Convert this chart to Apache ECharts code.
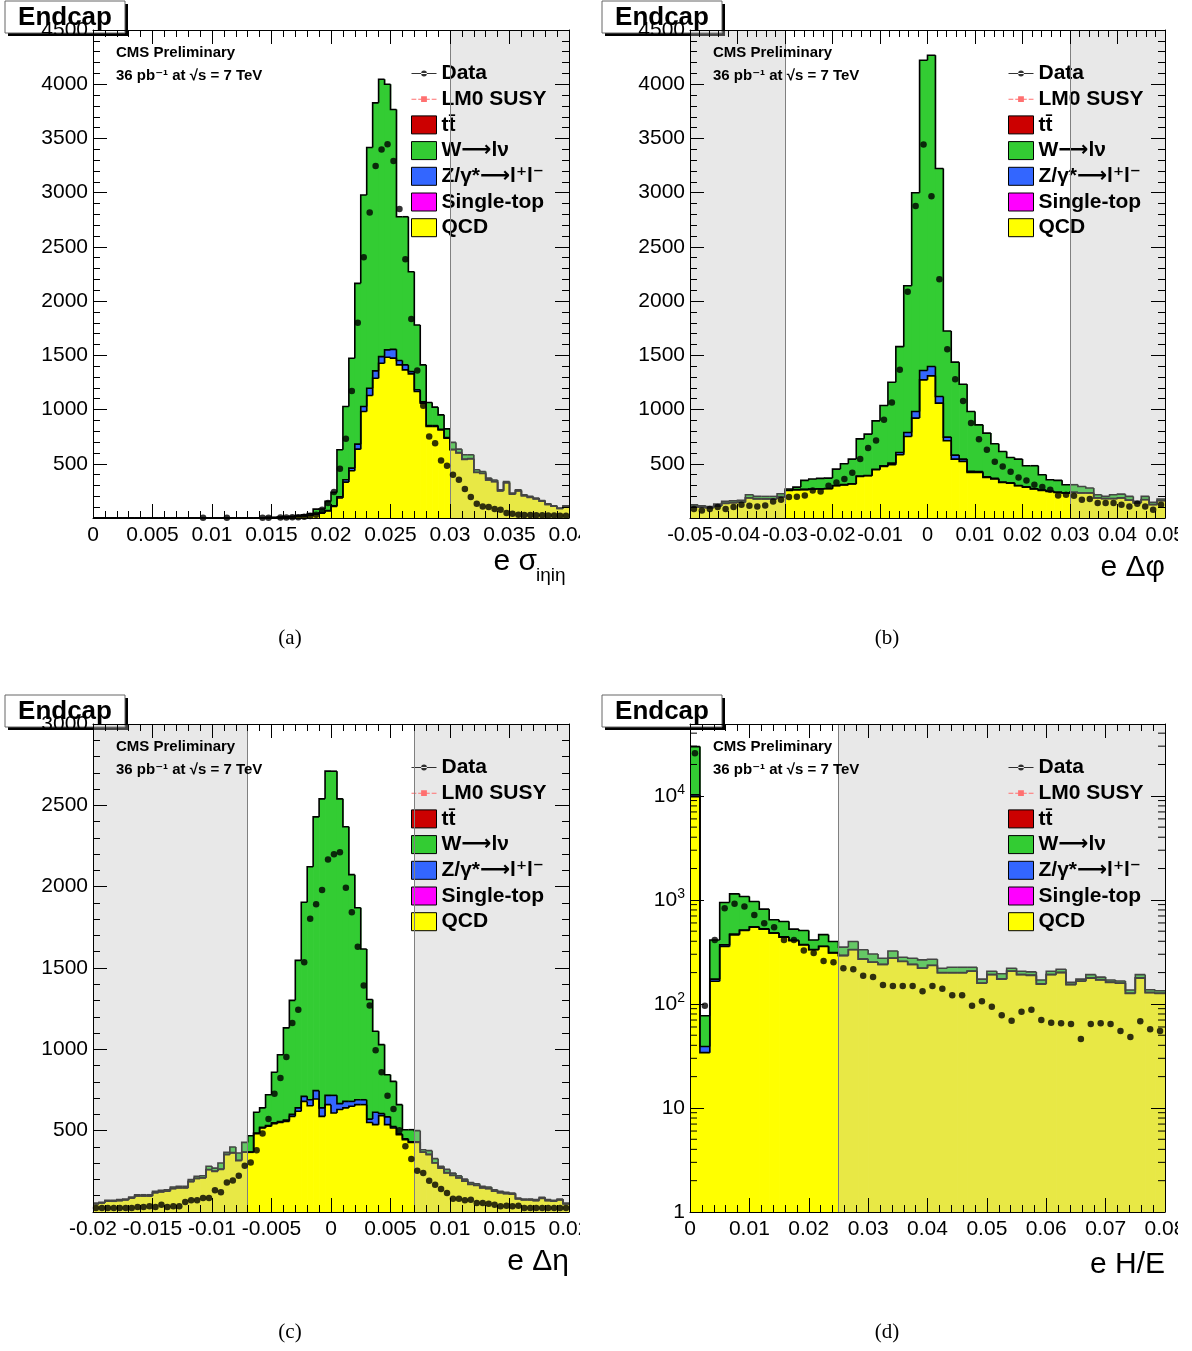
<!DOCTYPE html>
<html><head><meta charset="utf-8">
<script src="https://cdn.jsdelivr.net/npm/echarts@6/dist/echarts.min.js"></script>
<style>html,body{margin:0;padding:0;background:#fff}#c{width:1192px;height:1351px}</style>
</head><body><div id="c"></div><script>
const FONT = '"Liberation Sans", Arial, Helvetica, "DejaVu Sans", sans-serif';
const SERIF = '"Liberation Serif", "Times New Roman", "DejaVu Serif", serif';

// ---------------- DATA ----------------
// (a) e sigma_ietaieta : 80 bins from 0 to 0.04
const binsA = {lo: 0, width: 0.0005};
const qcdA = [0,0,0,0,0,0,0,0,0,0, 0,0,0,0,0,0,0,0,0,0, 0,0,0,0,0,0,0,0,2,3,
  4,6,8,12,16,20,25,35,45,65, 107,184,331,436,635,982,1129,1289,1427,1483,
  1474,1412,1366,1329,1166,1059,844,844,813,737, 629,600,540,545,420,410,350,335,250,325,
  220,250,205,190,176,155,126,108,88,108];
const zA = [0,0,0,0,0,0,0,0,0,0, 0,0,0,0,0,0,0,0,0,0, 0,0,0,0,0,0,0,0,0,0,
  0,0,0,0,0,1,1,2,3,4, 6,12,22,24,46,46,68,68,61,67,
  81,40,46,21,16,12,8,8,6,5, 4,3,3,3,2,2,2,1,1,1, 1,1,1,1,1,1,0,0,0,0];
const wA = [0,0,0,0,0,0,0,0,0,0, 0,0,0,0,0,0,0,0,0,0, 0,0,0,0,0,0,0,0,0,0,
  1,1,2,3,6,9,14,45,35,84, 123,433,675,1013,1483,1950,2220,2471,2558,2450,
  2212,1326,1366,921,598,341,213,170,132,80, 64,32,40,35,23,17,16,14,10,11,
  9,10,9,8,7,6,6,5,4,5];
const dataA = [null,null,null,null,null,null,null,null,null,null,
  null,null,null,null,null,null,null,null,3,null, null,null,2,null,null,null,null,null,3,3,
  null,4,5,6,8,12,18,30,76,138, 239,454,730,1172,1801,2405,2818,3245,3398,3447,
  3293,2849,2387,1835,1360,1034,752,690,531,482, 399,353,267,193,132,107,101,83,76,46,
  40,30,28,27,25,25,22,22,20,20];

// (b) e delta phi : 60 bins from -0.05 to 0.05
const binsB = {lo: -0.05, width: 0.1 / 60};
const qcdB = [107,100,95,110,135,140,145,185,175,175, 175,195,254,260,262,265,268,270,297,305,
  313,383,389,445,476,491,583,752,921,1274, 1311,1059,712,543,522,420,420,374,360,328,
  322,297,285,267,255,245,236,230,236,230, 230,184,178,178,184,163,138,168,122,160];
const zB = [1,1,1,1,1,1,1,2,2,2, 2,2,2,2,2,2,2,2,3,3, 3,3,3,5,6,15,21,37,61,86,
  86,61,34,37,21,10,8,6,5,4, 3,3,3,3,3,2,2,2,2,2, 2,2,2,2,2,2,2,2,2,2];
const wB = [14,12,9,17,17,17,17,28,22,22, 22,26,11,23,83,92,95,96,151,192,
  227,344,381,446,555,746,976,1353,2017,2861, 2870,2103,979,857,691,552,431,403,319,281,
  233,243,194,212,141,106,109,75,69,59, 44,29,19,35,34,34,13,29,20,13];
const dataB = [83,70,83,101,83,101,122,113,107,116, 153,169,193,196,208,254,245,297,328,359,
  417,543,645,715,905,1065,1366,2087,2876,3444, 2968,2201,1556,1280,1080,875,727,629,519,475,
  426,374,346,307,286,261,208,215,205,169, 175,138,138,138,122,107,132,107,76,122];

// (c) e delta eta : 80 bins from -0.02 to 0.02
const binsC = {lo: -0.02, width: 0.0005};
const qcdC = [50,55,66,66,70,74,85,98,98,98, 118,124,128,144,148,148,187,206,210,260,
  250,262,353,363,316,367,367,482,516,527, 543,550,557,588,619,680,653,695,588,660,
  609,630,640,650,660,660,550,537,592,537, 516,475,445,428,428,367,353,301,270,240,
  225,210,190,170,163,148,144,128,118,113, 109,80,74,74,70,84,70,66,74,50];
const zC = [1,1,1,1,1,1,1,1,1,1, 1,1,1,1,1,1,1,1,1,1, 2,2,2,2,2,2,2,3,4,5,
  5,6,8,12,21,31,37,51,52,57, 108,36,40,30,30,30,21,76,13,48,
  9,5,5,4,3,2,2,2,2,2, 1,1,1,1,1,1,1,1,1,1, 1,1,1,1,1,1,1,1,1,1];
const wC = [4,4,5,5,5,5,6,7,7,7, 8,8,8,9,9,9,11,12,12,20, 18,37,12,35,45,59,100,128,120,189,
  311,411,567,701,907,1193,1432,1683,1900,1993, 1993,1874,1688,1394,1180,927,735,498,424,259,
  278,180,56,74,69,14,22,25,9,20, 13,11,11,10,10,9,9,8,8,7, 7,5,5,5,5,5,5,5,5,4];
const dataC = [25,25,25,25,25,25,25,31,31,35, 31,45,31,35,35,61,72,72,86,86,
  133,121,182,194,223,285,305,379,482,572, 727,824,953,1162,1244,1535,1802,1892,1980,2167,
  2199,2212,1993,1843,1630,1392,1269,994,859,715, 633,502,404,326,254,240,192,167,141,117,
  82,82,72,76,55,55,51,45,35,39, 35,39,25,25,25,25,25,25,25,25];

// (d) e H/E : 48 bins from 0 to 0.08
const binsD = {lo: 0, width: 0.08 / 48};
const qcdD = [9800,34,165,356,461,507,546,523,479,438, 406,369,331,356,309,291,331,269,251,239,
  275,256,239,220,234,199,199,199,206,158, 191,173,206,191,188,155,191,200,153,165,
  177,170,161,158,126,177,128,126];
const zD = [400,5,8,13,9,5,5,4,4,3, 3,3,2,2,2,2,2,2,2,1, 1,1,1,1,1,1,1,1,1,1,
  1,1,1,1,1,1,1,1,1,1, 1,1,1,1,1,1,1,1];
const wD = [19500,38,239,573,672,564,412,287,160,179, 114,135,79,105,87,58,65,60,49,35,
  47,24,35,44,34,20,25,25,18,14, 14,21,13,14,14,14,14,14,7,7, 13,10,8,7,9,13,8,7];
const dataD = [25700,96,412,832,917,863,717,597,546,412, 412,326,309,259,252,220,215,186,181,152,
  149,149,149,132,149,140,121,121,96,106, 94,78,69,84,88,70,66,65,64,46,
  64,65,64,55,48,68,57,55];

// axis ranges and rejected (shaded) regions
const xRangeA = [0, 0.04, 0.005],  yRangeA = [0, 4500, 500];
const xRangeB = [-0.05, 0.05, 0.01], yRangeB = [0, 4500, 500];
const xRangeC = [-0.02, 0.02, 0.005], yRangeC = [0, 3000, 500];
const xRangeD = [0, 0.08, 0.01], yRangeD = [1, 49000];
const vetoA = [[0.03, 0.04]], cutsA = [0.03];
const vetoB = [[-0.05, -0.03], [0.03, 0.05]], cutsB = [-0.03, 0.03];
const vetoC = [[-0.02, -0.007], [0.007, 0.02]], cutsC = [-0.007, 0.007];
const vetoD = [[0.025, 0.08]], cutsD = [0.025];

const N_DATA = 'Data', N_LM0 = 'LM0 SUSY', N_TT = 'tt\u0304', N_W = 'W\u27f6l\u03bd',
      N_Z = 'Z/\u03b3*\u27f6l\u207al\u207b', N_ST = 'Single-top', N_QCD = 'QCD';
const COL = {qcd: '#ffff00', z: '#3366ff', w: '#33cc33', tt: '#cc0000', st: '#ff00ff', lm0: '#ff7070'};

// ---------------- LAYOUT ----------------
const panels = [
  {bins: binsA, qcd: qcdA, z: zA, w: wA, data: dataA, xr: xRangeA, yr: yRangeA, log: false, veto: vetoA, cuts: cutsA,
   grid: {left: 93, top: 30, width: 476, height: 488}, ox: 0, oy: 0, cap: '(a)', xfs: 21},
  {bins: binsB, qcd: qcdB, z: zB, w: wB, data: dataB, xr: xRangeB, yr: yRangeB, log: false, veto: vetoB, cuts: cutsB,
   grid: {left: 690, top: 30, width: 475, height: 488}, ox: 597, oy: 0, cap: '(b)', xfs: 20},
  {bins: binsC, qcd: qcdC, z: zC, w: wC, data: dataC, xr: xRangeC, yr: yRangeC, log: false, veto: vetoC, cuts: cutsC,
   grid: {left: 93, top: 724, width: 476, height: 488}, ox: 0, oy: 694, cap: '(c)', xfs: 21},
  {bins: binsD, qcd: qcdD, z: zD, w: wD, data: dataD, xr: xRangeD, yr: yRangeD, log: true, veto: vetoD, cuts: cutsD,
   grid: {left: 690, top: 724, width: 475, height: 488}, ox: 597, oy: 694, cap: '(d)', xfs: 21}
];

function fmtX(v) { return String(Math.round(v * 1e6) / 1e6); }

function renderHist(params, api) {
  const x0 = api.value(0), x1 = api.value(1), lo = api.value(2), hi = api.value(3), ph = api.value(4);
  const a = api.coord([x0, lo]), b = api.coord([x1, hi]), c = api.coord([x0, ph]);
  const children = [];
  if (a[1] - b[1] > 0.05) {
    children.push({type: 'rect', z2: 1, shape: {x: a[0], y: b[1], width: b[0] - a[0] + 0.7, height: a[1] - b[1]},
      style: {fill: api.visual('color')}});
  }
  children.push({type: 'polyline', z2: 20, shape: {points: [[c[0], c[1]], [a[0], b[1]], [b[0], b[1]]]},
    style: {stroke: '#000', lineWidth: 1.6, fill: null}});
  return {type: 'group', children};
}

function layerItems(bins, vals, below, base) {
  const items = [];
  let prev = base;
  for (let i = 0; i < vals.length; i++) {
    const lo = below ? below[i] : base;
    const hi = below ? below[i] + vals[i] : vals[i];
    items.push([bins.lo + i * bins.width, bins.lo + (i + 1) * bins.width, lo, hi, prev]);
    prev = hi;
  }
  return items;
}

const DATA_ICON = 'path://M0,2.5h26v1h-26z M13,0a3,3 0 1,0 0.01,0z';
const LM0_ICON = 'path://M0,2.5h5v1h-5z M7,2.5h3v1h-3z M10,0h6v6h-6z M16,2.5h3v1h-3z M21,2.5h5v1h-5z';

const option = {animation: false, backgroundColor: '#fff', grid: [], xAxis: [], yAxis: [], legend: [], series: [],
  graphic: {elements: []}};

panels.forEach((p, k) => {
  option.grid.push(Object.assign({outerBoundsMode: 'none', containLabel: false}, p.grid));
  const tickStyle = {color: '#000', width: 1};
  const xCommon = {type: 'value', gridIndex: k, min: p.xr[0], max: p.xr[1], interval: p.xr[2], z: 5,
    axisLine: {show: true, onZero: false, lineStyle: tickStyle},
    axisTick: {show: true, inside: true, length: 14, lineStyle: tickStyle},
    minorTick: {show: true, splitNumber: 5, length: 7, lineStyle: tickStyle},
    splitLine: {show: false}, minorSplitLine: {show: false}};
  option.xAxis.push(Object.assign({}, xCommon, {position: 'bottom',
    axisLabel: {show: true, color: '#000', fontFamily: FONT, fontSize: p.xfs, margin: 7, formatter: fmtX,
      showMinLabel: true, showMaxLabel: true, hideOverlap: false}}));
  option.xAxis.push(Object.assign({}, xCommon, {position: 'top', axisLabel: {show: false}}));
  let yCommon;
  if (!p.log) {
    yCommon = {type: 'value', gridIndex: k, min: p.yr[0], max: p.yr[1], interval: p.yr[2], z: 5,
      minorTick: {show: true, splitNumber: 5, length: 7, lineStyle: tickStyle}};
  } else {
    yCommon = {type: 'log', logBase: 10, gridIndex: k, min: p.yr[0], max: p.yr[1], z: 5, minorTick: {show: false}};
  }
  Object.assign(yCommon, {axisLine: {show: true, onZero: false, lineStyle: tickStyle},
    axisTick: {show: true, inside: true, length: 14, lineStyle: tickStyle},
    splitLine: {show: false}, minorSplitLine: {show: false}});
  const yFmt = p.log ? (v => {
      const l = Math.log10(v), e = Math.round(l);
      if (Math.abs(l - e) > 1e-6) return '';
      if (e === 0) return '1';
      if (e === 1) return '10';
      return '10{sup|' + e + '}';
    }) : (v => v === 0 ? '' : String(v));
  option.yAxis.push(Object.assign({}, yCommon, {position: 'left',
    axisLabel: {show: true, color: '#000', fontFamily: FONT, fontSize: 21, margin: 5, formatter: yFmt,
      showMinLabel: true, showMaxLabel: true, hideOverlap: false,
      rich: {sup: {fontFamily: FONT, fontSize: 14, color: '#000', padding: [0, 0, 12, 0], verticalAlign: 'bottom'}}}}));
  option.yAxis.push(Object.assign({}, yCommon, {position: 'right', axisLabel: {show: false}}));

  const base = p.log ? 1 : 0;
  const cumZ = p.qcd.map((v, i) => v + p.z[i]);
  const ax = {xAxisIndex: 2 * k, yAxisIndex: 2 * k};
  const hist = (name, color, items) => Object.assign({type: 'custom', name, z: 2, clip: true, silent: true,
    itemStyle: {color}, renderItem: renderHist, encode: {x: [0, 1], y: [2, 3]}, data: items}, ax);
  option.series.push(hist(N_QCD, COL.qcd, layerItems(p.bins, p.qcd, null, base)));
  option.series.push(hist(N_ST, COL.st, []));
  option.series.push(hist(N_Z, COL.z, layerItems(p.bins, p.z, p.qcd, base)));
  option.series.push(hist(N_W, COL.w, layerItems(p.bins, p.w, cumZ, base)));
  option.series.push(hist(N_TT, COL.tt, []));
  option.series.push(Object.assign({type: 'line', name: N_LM0, data: [], symbol: 'rect',
    itemStyle: {color: COL.lm0}, lineStyle: {color: COL.lm0, type: 'dashed'}}, ax));
  const pts = [];
  p.data.forEach((v, i) => { if (v !== null) pts.push([p.bins.lo + (i + 0.5) * p.bins.width, v]); });
  option.series.push(Object.assign({type: 'scatter', name: N_DATA, z: 6, silent: true, symbol: 'circle', symbolSize: 6.5,
    itemStyle: {color: '#000'}, data: pts,
    markArea: {silent: true, z: 3, itemStyle: {color: 'rgba(190,190,190,0.36)'},
      data: p.veto.map(r => [{xAxis: r[0]}, {xAxis: r[1]}])},
    markLine: {silent: true, z: 4, precision: 6, symbol: ['none', 'none'], label: {show: false},
      lineStyle: {color: '#808080', type: 'solid', width: 1}, data: p.cuts.map(c => ({xAxis: c}))}}, ax));

  if (p.log) {
    const minor = [];
    for (let d = 1; d <= 10000; d *= 10) for (let m = 2; m <= 9; m++) if (m * d < p.yr[1]) minor.push([p.xr[0], m * d]);
    option.series.push(Object.assign({type: 'custom', z: 7, silent: true, clip: false, encode: {x: 0, y: 1}, data: minor,
      renderItem: (params, api) => {
        const v = api.value(1);
        const L = api.coord([p.xr[0], v]), R = api.coord([p.xr[1], v]);
        return {type: 'group', children: [
          {type: 'line', shape: {x1: L[0], y1: L[1], x2: L[0] + 7, y2: L[1]}, style: {stroke: '#000', lineWidth: 1}},
          {type: 'line', shape: {x1: R[0] - 7, y1: R[1], x2: R[0], y2: R[1]}, style: {stroke: '#000', lineWidth: 1}}]};
      }}, ax));
  }

  option.legend.push({orient: 'vertical', left: p.ox + 411, top: p.oy + 63, itemWidth: 25, itemHeight: 18, itemGap: 4.7,
    selectedMode: false, padding: 0,
    textStyle: {fontFamily: FONT, fontWeight: 'bold', fontSize: 21, color: '#000', lineHeight: 18},
    data: [
      {name: N_DATA, icon: DATA_ICON, itemStyle: {color: '#000'}},
      {name: N_LM0, icon: LM0_ICON, itemStyle: {color: COL.lm0}},
      {name: N_TT, icon: 'rect', itemStyle: {color: COL.tt, borderColor: '#000', borderWidth: 1}},
      {name: N_W, icon: 'rect', itemStyle: {color: COL.w, borderColor: '#000', borderWidth: 1}},
      {name: N_Z, icon: 'rect', itemStyle: {color: COL.z, borderColor: '#000', borderWidth: 1}},
      {name: N_ST, icon: 'rect', itemStyle: {color: COL.st, borderColor: '#000', borderWidth: 1}},
      {name: N_QCD, icon: 'rect', itemStyle: {color: COL.qcd, borderColor: '#000', borderWidth: 1}}
    ]});

  const G = option.graphic.elements;
  G.push({type: 'rect', z: 1, shape: {x: p.ox + 8, y: p.oy + 4, width: 120, height: 32}, style: {fill: '#000'}});
  G.push({type: 'rect', z: 1, shape: {x: p.ox + 5, y: p.oy + 1, width: 120, height: 32}, style: {fill: '#fff', stroke: '#666', lineWidth: 1}});
  G.push({type: 'text', z: 2, x: p.ox + 65, y: p.oy + 18, style: {text: 'Endcap', fontFamily: FONT, fontWeight: 'bold', fontSize: 26, fill: '#000', align: 'center', verticalAlign: 'middle'}});
  G.push({type: 'text', z: 10, x: p.ox + 116, y: p.oy + 53, style: {text: 'CMS Preliminary', fontFamily: FONT, fontWeight: 'bold', fontSize: 15, fill: '#000', align: 'left', verticalAlign: 'middle'}});
  G.push({type: 'text', z: 10, x: p.ox + 116, y: p.oy + 76, style: {text: '36 pb\u207b\u00b9 at \u221as = 7 TeV', fontFamily: FONT, fontWeight: 'bold', fontSize: 15, fill: '#000', align: 'left', verticalAlign: 'middle'}});
  G.push({type: 'text', z: 10, x: p.ox + 290, y: p.oy + 638, style: {text: p.cap, fontFamily: SERIF, fontSize: 21, fill: '#000', align: 'center', verticalAlign: 'middle'}});
});

const G = option.graphic.elements;
const titleStyle = {fontFamily: FONT, fontSize: 30, fill: '#000', align: 'right', verticalAlign: 'middle'};
G.push({type: 'text', z: 10, x: 537, y: 562, style: Object.assign({text: 'e \u03c3'}, titleStyle)});
G.push({type: 'text', z: 10, x: 536, y: 576, style: {text: 'i\u03b7i\u03b7', fontFamily: FONT, fontSize: 19, fill: '#000', align: 'left', verticalAlign: 'middle'}});
G.push({type: 'text', z: 10, x: 1165, y: 568, style: Object.assign({text: 'e \u0394\u03c6'}, titleStyle)});
G.push({type: 'text', z: 10, x: 569, y: 1262, style: Object.assign({text: 'e \u0394\u03b7'}, titleStyle)});
G.push({type: 'text', z: 10, x: 1165, y: 1265, style: Object.assign({text: 'e H/E'}, titleStyle)});
// pad edges clip the last tick labels
[[580, 519, 23], [1178, 519, 14], [580, 1213, 23], [1178, 1213, 14]].forEach(r =>
  G.push({type: 'rect', z: 100, shape: {x: r[0], y: r[1], width: r[2], height: 40}, style: {fill: '#fff'}}));

const chart = echarts.init(document.getElementById('c'), null, {renderer: 'canvas'});
chart.setOption(option);
</script></body></html>
